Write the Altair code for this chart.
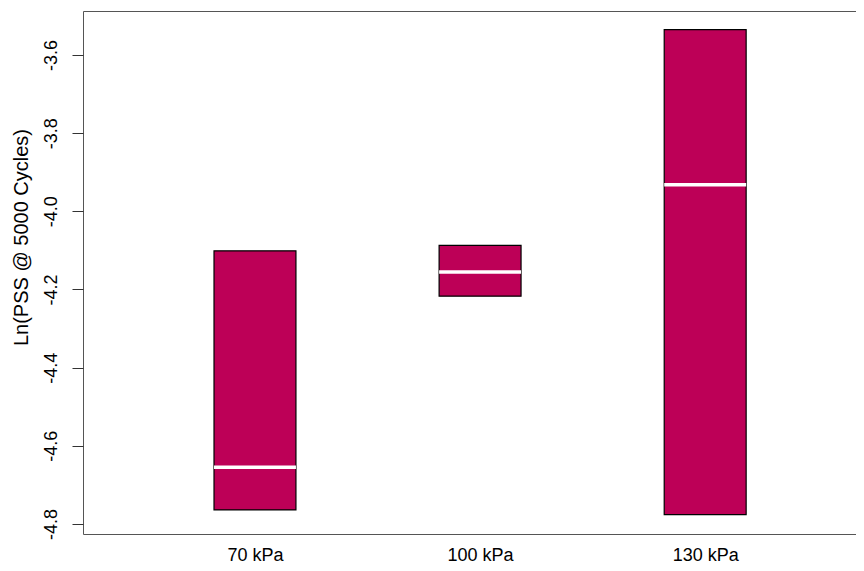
import altair as alt
import pandas as pd

categories = ["70 kPa", "100 kPa", "130 kPa"]
positions = [1, 2, 3]
lower = [-4.764, -4.217, -4.776]
upper = [-4.101, -4.087, -3.535]
median = [-4.6545, -4.155, -3.932]
y_ticks = [-3.6, -3.8, -4.0, -4.2, -4.4, -4.6, -4.8]
half_width = 0.182

df = pd.DataFrame({
    "cat": categories,
    "pos": positions,
    "lo": lower,
    "hi": upper,
    "med": median,
})
df["x0"] = df["pos"] - half_width
df["x1"] = df["pos"] + half_width

FONT = "Liberation Sans"
x_scale = alt.Scale(domain=[0.236, 3.67], nice=False, zero=False)
y_scale = alt.Scale(domain=[-4.8256, -3.4875], nice=False, zero=False)

label_expr = "datum.value == 1 ? '70 kPa' : datum.value == 2 ? '100 kPa' : '130 kPa'"

x_axis = alt.Axis(values=positions, labelExpr=label_expr, title=None, ticks=False,
                  domain=False, grid=False, labelFontSize=18, labelFont=FONT,
                  labelColor="black", labelPadding=12)
y_axis = alt.Axis(values=y_ticks, labelExpr="replace(format(datum.value, '.1f'), '\u2212', '-')",
                  title="Ln(PSS @ 5000 Cycles)", grid=False,
                  domain=False, tickSize=11, tickColor="#333", labelAngle=270,
                  labelAlign="center", labelBaseline="bottom", labelPadding=12,
                  labelFontSize=18, labelFont=FONT, labelColor="black",
                  titleFontSize=20, titleFont=FONT, titleFontWeight="normal",
                  titleColor="black", titleY=226, titleX=-62, titleAngle=270,
                  titleAlign="center", titleBaseline="middle")

boxes = alt.Chart(df).mark_rect(color="#BD0057", stroke="black", strokeWidth=1.2).encode(
    x=alt.X("x0:Q", scale=x_scale, axis=x_axis),
    x2="x1:Q",
    y=alt.Y("lo:Q", scale=y_scale, axis=y_axis),
    y2="hi:Q",
)

meds = alt.Chart(df).mark_rule(color="white", strokeWidth=3.5).encode(
    x=alt.X("x0:Q", scale=x_scale),
    x2="x1:Q",
    y=alt.Y("med:Q", scale=y_scale),
)

chart = alt.layer(boxes, meds).properties(
    width=773, height=523,
    background="white",
    autosize=alt.AutoSizeParams(type="none"),
    padding={"left": 75, "top": 3, "right": 0, "bottom": 36},
).configure_view(stroke="#555555", strokeWidth=1)

chart.save("out.html", embed_options={"renderer": "svg", "actions": False})
